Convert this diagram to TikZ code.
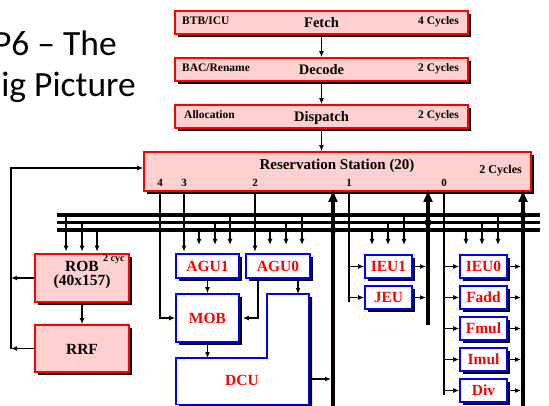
\documentclass[tikz,border=0pt]{standalone}
\usepackage{fontspec}
\setmainfont{Liberation Serif}
\newfontfamily\titlefont{Carlito}
\usetikzlibrary{arrows.meta,shadows}
\definecolor{pinkfill}{RGB}{255,208,208}
\begin{document}
\begin{tikzpicture}[x=1pt,y=-1pt,font=\bfseries,
  conn/.style={line width=1.5pt},
  arr/.style={line width=1.5pt,-{Latex[length=6pt,width=5pt]}},
  busline/.style={line width=3.5pt},
  upline/.style={line width=4pt,-{Latex[length=13pt,width=10pt]}},
  boxshadow/.style={drop shadow={shadow xshift=3pt,shadow yshift=-3pt,opacity=1,fill=black}},
  pinkbox/.style={draw=red,line width=1.6pt,fill=pinkfill,boxshadow,inner sep=0pt},
  bluebox/.style={draw=blue,line width=1.6pt,fill=white,boxshadow,inner sep=0pt,text=red,font=\fontsize{15.5}{16}\selectfont\bfseries},
  stagebox/.style={pinkbox,minimum width=293pt,minimum height=23pt},
  eubox/.style={bluebox,minimum width=47pt,minimum height=23pt},
  txs/.style={font=\fontsize{11.5}{12}\selectfont\bfseries,inner sep=0pt},
  txm/.style={font=\fontsize{14.5}{15}\selectfont\bfseries,inner sep=0pt},
  txl/.style={font=\fontsize{15.5}{16}\selectfont\bfseries,inner sep=0pt},
  titletext/.style={font=\titlefont\mdseries\fontsize{35.5}{36}\selectfont,anchor=base east,inner sep=0pt},
  dotnode/.style={circle,fill=black,inner sep=0pt,minimum size=7pt}
]
\useasboundingbox (0,0) rectangle (549,406);

% title
\node[titletext] (title1) at (117,55.5) {P6 – The};
\node[titletext] (title2) at (136,96.5) {ig Picture};

% buses
\coordinate (b1L) at (57,215);   \coordinate (b1R) at (540,215);
\coordinate (b2L) at (57,222.5); \coordinate (b2R) at (540,222.5);
\coordinate (b3L) at (57,230);   \coordinate (b3R) at (540,230);
\draw[busline] (b1L) -- (b1R);
\draw[busline] (b2L) -- (b2R);
\draw[busline] (b3L) -- (b3R);

% pipeline stages
\node[stagebox] (fetch) at (321.5,22.5) {};
\node[txm,anchor=base] (fetcht) at (321.5,27.5) {Fetch};
\node[txs,anchor=base west] (fetchl) at (182,25) {BTB/ICU};
\node[txs,anchor=base east] (fetchr) at (459,25) {4 Cycles};

\node[stagebox] (decode) at (321.5,69.5) {};
\node[txm,anchor=base] (decodet) at (321.5,74.5) {Decode};
\node[txs,anchor=base west] (decodel) at (182,72) {BAC/Rename};
\node[txs,anchor=base east] (decoder) at (459,72) {2 Cycles};

\node[stagebox] (dispatch) at (321.5,116.5) {};
\node[txm,anchor=base] (dispatcht) at (321.5,121.5) {Dispatch};
\node[txs,anchor=base west] (dispatchl) at (184,119) {Allocation};
\node[txs,anchor=base east] (dispatchr) at (459,119) {2 Cycles};

% reservation station
\node[pinkbox,minimum width=387pt,minimum height=39pt] (rs) at (337.5,171.5) {};
\node[font=\fontsize{15}{16}\selectfont\bfseries,inner sep=0pt,anchor=base] (rst) at (337,169.3) {Reservation Station (20)};
\node[font=\fontsize{12}{13}\selectfont\bfseries,inner sep=0pt,anchor=base east] (rsc) at (522,173.3) {2 Cycles};
\foreach \p/\x in {4/160,3/184,2/255,1/349,0/444}
  \node[font=\fontsize{11}{12}\selectfont\bfseries,inner sep=0pt,anchor=base] (port\p) at (\x,186.7) {\p};

% ROB / RRF
\node[pinkbox,minimum width=94pt,minimum height=48pt] (rob) at (82,278) {};
\node[txl,anchor=base] (robt1) at (82,271.7) {ROB};
\node[txl,anchor=base] (robt2) at (82,286) {(40x157)};
\node[font=\fontsize{10}{11}\selectfont\bfseries,inner sep=0pt,anchor=base west] (robc) at (103,261.7) {2 cyc};
\node[pinkbox,minimum width=94pt,minimum height=47pt] (rrf) at (82,348.5) {};
\node[txl,anchor=base] (rrft) at (82,354) {RRF};

% memory units
\node[bluebox,minimum width=63pt,minimum height=24pt] (agu1) at (207.5,266) {AGU1};
\node[bluebox,minimum width=64pt,minimum height=24pt] (agu0) at (278,266) {AGU0};
\node[bluebox,minimum width=63pt,minimum height=48pt] (mob) at (207.5,318) {MOB};
\fill[black] (179,361) -- (270,361) -- (270,297) -- (312,297) -- (312,408) -- (179,408) -- cycle;
\draw[blue,line width=1.6pt,fill=white] (176,358) coordinate (dcuA) -- (267,358) -- (267,294) -- (309,294) -- (309,404.5) -- (176,404.5) -- cycle;
\node[txl,text=red] (dcu) at (242,380) {DCU};

% execution units
\node[eubox] (ieu1) at (388.5,266.5) {IEU1};
\node[eubox] (jeu)  at (388.5,297.5) {JEU};
\node[eubox] (ieu0) at (483.5,266.5) {IEU0};
\node[eubox] (fadd) at (483.5,297.5) {Fadd};
\node[eubox] (fmul) at (483.5,328.5) {Fmul};
\node[eubox] (imul) at (483.5,359.5) {Imul};
\node[eubox] (div)  at (483.5,390.5) {Div};

% pipeline arrows
\draw[arr] (fetch.south) -- (decode.north);
\draw[arr] (decode.south) -- (dispatch.north);
\draw[arr] (dispatch.south) -- (dispatch.south |- rs.north);

% bus taps
\foreach \x/\y in {66/215,82/222.5,97/230}
  \draw[arr,shorten >=1.5pt] (\x,\y) -- (\x,0 |- rob.north);
\foreach \x/\y in {199/230,215/222.5,230/215, 270/230,286/222.5,302/215, 372/230,388/222.5,404/215, 466/230,482/222.5,498/215}
  \draw[arr] (\x,\y) -- (\x,245);

% RS ports
\draw[arr] (160,0 |- rs.south) |- (mob.west);
\draw[arr,shorten >=1.5pt] (184,0 |- rs.south) -- (184,0 |- agu1.north);
\draw[arr,shorten >=1.5pt] (255,0 |- rs.south) -- (255,0 |- agu0.north);
\draw[conn] (349,0 |- rs.south) -- (349,302);
\foreach \n in {ieu1,jeu}
  \draw[arr] (349,0 |- \n.west) -- (\n.west);
\draw[conn] (444,0 |- rs.south) -- (444,395);
\foreach \n in {ieu0,fadd,fmul,imul,div}
  \draw[arr] (444,0 |- \n.west) -- (\n.west);

% results
\foreach \n in {ieu1,jeu}
  \draw[arr] (\n.east) -- (426,0 |- \n.east);
\foreach \n in {ieu0,fadd,fmul,imul,div}
  \draw[arr] (\n.east) -- (521,0 |- \n.east);
\coordinate (up1) at (333,408);
\coordinate (up2) at (428,325);
\coordinate (up3) at (523,408);
\draw[upline,shorten >=-3pt] (up1) -- (up1 |- rs.south);
\draw[upline,shorten >=-3pt] (up2) -- (up2 |- rs.south);
\draw[upline,shorten >=-3pt] (up3) -- (up3 |- rs.south);
\node[dotnode] (dot1) at (up1 |- b3L) {};
\node[dotnode] (dot2) at (up2 |- b2L) {};
\node[dotnode] (dot3) at (up3 |- b1L) {};

% memory arrows
\draw[arr] (agu1.south) -- (mob.north);
\draw[arr] (mob.south) -- (mob.south |- dcuA);
\draw[arr] (258,0 |- agu0.south) |- ([xshift=3pt]mob.east);
\draw[arr] (298,0 |- agu0.south) -- (298,294);
\draw[arr] (312,379) -- (331,379);

% ROB/RRF feedback
\coordinate (fbx) at (11,0);
\draw[arr] (rob.south) -- (rrf.north);
\draw[arr] (rob.west) -- (fbx |- rob.west);
\draw[arr] (rrf.west) -- (fbx |- rrf.west);
\draw[arr] (fbx |- rrf.west) |- ([yshift=3.5pt]rs.west);
\end{tikzpicture}
\end{document}
